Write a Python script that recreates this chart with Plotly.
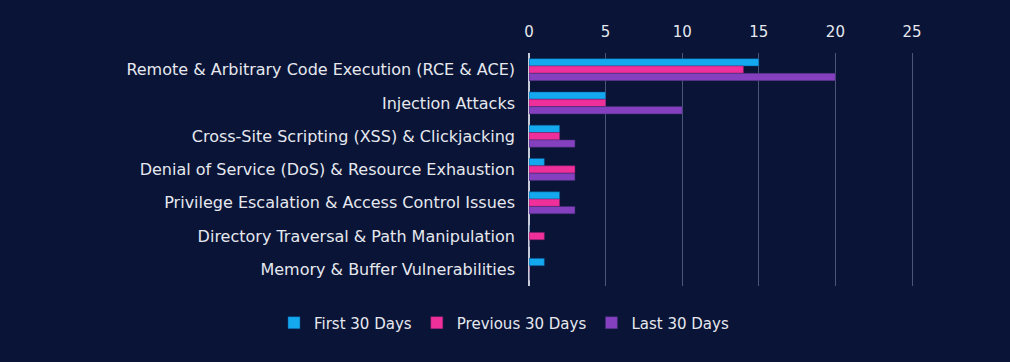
import plotly.graph_objects as go

categories = [
    "Remote & Arbitrary Code Execution (RCE & ACE)",
    "Injection Attacks",
    "Cross-Site Scripting (XSS) & Clickjacking",
    "Denial of Service (DoS) & Resource Exhaustion",
    "Privilege Escalation & Access Control Issues",
    "Directory Traversal & Path Manipulation",
    "Memory & Buffer Vulnerabilities",
]
first_30 = [15, 5, 2, 1, 2, 0, 1]
previous_30 = [14, 5, 2, 3, 2, 1, 0]
last_30 = [20, 10, 3, 3, 3, 0, 0]
x_ticks = [0, 5, 10, 15, 20, 25]

series = [
    ("First 30 Days", first_30, "#14A8EE", "#0A4F8C"),
    ("Previous 30 Days", previous_30, "#F0309A", "#7A1F6E"),
    ("Last 30 Days", last_30, "#8440BE", "#3E2E6A"),
]

fig = go.Figure()
for name, vals, col, lc in series:
    fig.add_trace(go.Bar(
        y=categories, x=vals, name=name, orientation="h",
        marker=dict(color=col, line=dict(color=lc, width=0.5)),
    ))

W, H = 1010, 362
x_max = 25.25
x0_px, x25_px = 529, 912
x_end_px = x0_px + (x25_px - x0_px) * x_max / 25
font_family = "'DejaVu Sans', sans-serif"
fig.update_layout(
    width=W, height=H,
    paper_bgcolor="#091437", plot_bgcolor="#091437",
    barmode="group", bargap=0.34, bargroupgap=0,
    margin=dict(l=0, r=0, t=53, b=76, autoexpand=False),
    font=dict(family=font_family, color="#E6E8EE", size=15),
    xaxis=dict(side="top", range=[0, x_max], tickvals=x_ticks,
               domain=[x0_px / W, x_end_px / W], automargin=False,
               showgrid=True, gridcolor="#4A5577", gridwidth=1,
               zeroline=True, zerolinecolor="#C8CCD8", zerolinewidth=1.5,
               showline=False, tickfont=dict(size=15, color="#E6E8EE"),
               ticks="", ticklabelstandoff=12),
    yaxis=dict(autorange="reversed", showgrid=False, zeroline=False,
               automargin=False,
               showline=False, ticks="", ticklabelstandoff=13,
               tickfont=dict(size=16, color="#E6E8EE")),
    legend=dict(orientation="h", xref="paper", x=0.499, xanchor="center",
                yref="container", y=0.108, yanchor="middle",
                font=dict(size=15, color="#E6E8EE"),
                traceorder="normal", itemwidth=30),
    showlegend=True,
)

fig.write_html("out.html", config={"displayModeBar": False},
               post_script="document.body.style.margin='0';document.body.style.background='#091437';")
